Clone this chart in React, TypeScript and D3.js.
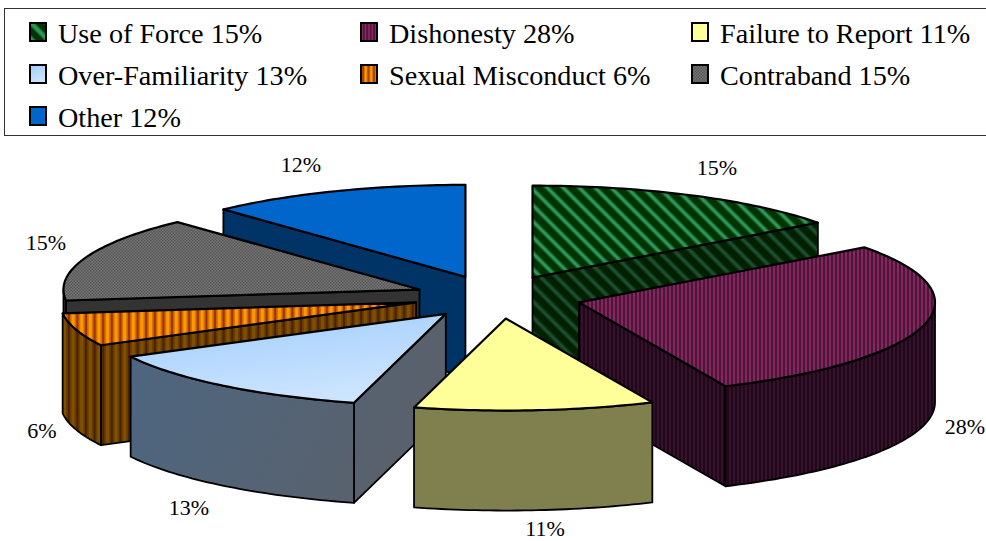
import React from "react";
import * as d3 from "d3";

const categories = ["Use of Force", "Dishonesty", "Failure to Report", "Over-Familiarity", "Sexual Misconduct", "Contraband", "Other"];
const shares = [14.8, 28.45, 10.9, 13.15, 5.8, 15.0, 11.9];
const topFills = ["url(#pForce)", "url(#pDis)", "#ffff99", "url(#gOver)", "url(#pSex)", "url(#pCon)", "#0066cc"];
const wallFills = ["url(#wForce)", "url(#wDis)", "#80804f", "url(#gOverWall)", "url(#wSex)", "#333333", "#003366"];
const legendFills = ["url(#lForce)", "url(#lDis)", "#ffff99", "url(#gOver)", "url(#lSex)", "url(#pCon)", "#0066cc"];
const paintOrder = [0, 6, 5, 4, 1, 3, 2];
// small per-slice position corrections, in page pixels
const nudgeX = [0, 3, 4, 3, 1, 3, 1];
const nudgeY = [0, 0, 0, 0, -1, 0, 0];
// label anchor per slice, in page pixels
const labelX = [717, 965, 545, 189, 42, 46, 301];
const labelY = [175, 434, 536, 515, 438, 250, 172];
const legendColX = [29, 360, 691];
const legendRowY = [33, 75, 117];

const W = 986, H = 541;
const CX = 495, CY = 297, RX = 356, RY = 92, DEPTH = 100, EXPLODE = 0.235;
const FONT = "'Liberation Serif', serif";

const sx = d3.scaleLinear().domain([-1, 1]).range([CX - RX, CX + RX]);
const sy = d3.scaleLinear().domain([-1, 1]).range([CY - RY, CY + RY]);
const line = d3.line<[number, number]>().x(d => d[0]).y(d => d[1]);

const arcs = d3.pie<number>().sort(null).startAngle(0).endAngle(2 * Math.PI)(shares);

function apex(i: number): [number, number] {
  const m = (arcs[i].startAngle + arcs[i].endAngle) / 2;
  return [sx(EXPLODE * Math.sin(m)) + nudgeX[i], sy(-EXPLODE * Math.cos(m)) + nudgeY[i]];
}
function rim(i: number, a: number): [number, number] {
  const [x, y] = apex(i);
  return [x + (sx(Math.sin(a)) - CX), y + (sy(-Math.cos(a)) - CY)];
}
function rimPts(i: number, a0: number, a1: number): [number, number][] {
  const n = Math.max(2, Math.ceil((a1 - a0) / 0.02));
  return d3.range(n + 1).map(k => rim(i, a0 + ((a1 - a0) * k) / n));
}
const drop = (p: [number, number]): [number, number] => [p[0], p[1] + DEPTH];

function Slice({ i }: { i: number }) {
  const { startAngle: a0, endAngle: a1 } = arcs[i];
  const c = apex(i);
  const top = line([c, ...rimPts(i, a0, a1)])! + "Z";
  const walls: string[] = [];
  if (Math.sin(a0) < 0) {
    const r = rim(i, a0);
    walls.push(line([c, r, drop(r), drop(c)])! + "Z");
  }
  if (Math.sin(a1) > 0) {
    const r = rim(i, a1);
    walls.push(line([c, r, drop(r), drop(c)])! + "Z");
  }
  const lo = Math.max(a0, Math.PI / 2), hi = Math.min(a1, (3 * Math.PI) / 2);
  if (hi > lo) {
    const pts = rimPts(i, lo, hi);
    walls.push(line([...pts, ...pts.slice().reverse().map(drop)])! + "Z");
  }
  return (
    <g stroke="#000" strokeLinejoin="round">
      {walls.map((d, k) => <path key={k} d={d} fill={wallFills[i]} strokeWidth={1.8} />)}
      <path d={top} fill={topFills[i]} strokeWidth={2.2} />
    </g>
  );
}

function stripes(id: string, period: number, a: string, b: string, duty: number, rotate = 0) {
  const w = period * duty;
  const x0 = (period - w) / 2;
  return (
    <pattern id={id} width={period} height={period} patternUnits="userSpaceOnUse"
      patternTransform={rotate ? `rotate(${rotate})` : undefined}>
      <rect width={period} height={period} fill={a} />
      <rect x={x0} width={w} height={period} fill={b} opacity={0.55} />
      <rect x={x0 + w * 0.25} width={w * 0.5} height={period} fill={b} />
    </pattern>
  );
}

export default function App() {
  return (
    <svg width={W} height={H} viewBox={`0 0 ${W} ${H}`} style={{ position: "absolute", left: 0, top: 0, background: "#fff" }}>
      <defs>
        {stripes("pForce", 11.3, "#003300", "#2f9960", 0.42, -45)}
        {stripes("wForce", 11.3, "#002000", "#1f4f33", 0.42, -45)}
        {stripes("lForce", 11.3, "#003300", "#2f9960", 0.5, -45)}
        {stripes("pDis", 4, "#2e0a26", "#8a2a62", 0.8)}
        {stripes("wDis", 4, "#170512", "#3a122f", 0.7)}
        {stripes("lDis", 3.4, "#2e0a26", "#8a2a62", 0.8)}
        {stripes("pSex", 8.6, "#993300", "#ff9900", 0.75)}
        {stripes("wSex", 8.6, "#4a2200", "#805000", 0.75)}
        {stripes("lSex", 5.5, "#993300", "#ff9900", 0.75)}
        <pattern id="pCon" width={3} height={3} patternUnits="userSpaceOnUse">
          <rect width={3} height={3} fill="#747474" />
          <rect width={1.5} height={1.5} fill="#585858" />
          <rect x={1.5} y={1.5} width={1.5} height={1.5} fill="#585858" />
        </pattern>
        <linearGradient id="gOver" x1="0.3" y1="0" x2="0.7" y2="1">
          <stop offset="0" stopColor="#a4cffc" />
          <stop offset="1" stopColor="#d0e6ff" />
        </linearGradient>
        <linearGradient id="gOverWall" gradientUnits="userSpaceOnUse" x1="130" y1="360" x2="440" y2="500">
          <stop offset="0" stopColor="#4d6680" />
          <stop offset="1" stopColor="#5c6068" />
        </linearGradient>
      </defs>

      <rect x={4.5} y={8.5} width={W + 10} height={127} fill="#fff" stroke="#333" strokeWidth={1} />
      {categories.map((c, i) => {
        const x = legendColX[i % 3], y = legendRowY[Math.floor(i / 3)];
        return (
          <g key={c}>
            <rect x={x + 1} y={y - 10} width={16} height={18} fill={legendFills[i]} stroke="#000" strokeWidth={2} />
            <text x={x + 29} y={y + 9.5} fontFamily={FONT} fontSize={28.2} fill="#000">{`${c} ${Math.round(shares[i])}%`}</text>
          </g>
        );
      })}

      {paintOrder.map(i => <Slice key={i} i={i} />)}

      {shares.map((s, i) => (
        <text key={i} x={labelX[i]} y={labelY[i]} textAnchor="middle" fontFamily={FONT} fontSize={22} fill="#000">{`${Math.round(s)}%`}</text>
      ))}
    </svg>
  );
}
